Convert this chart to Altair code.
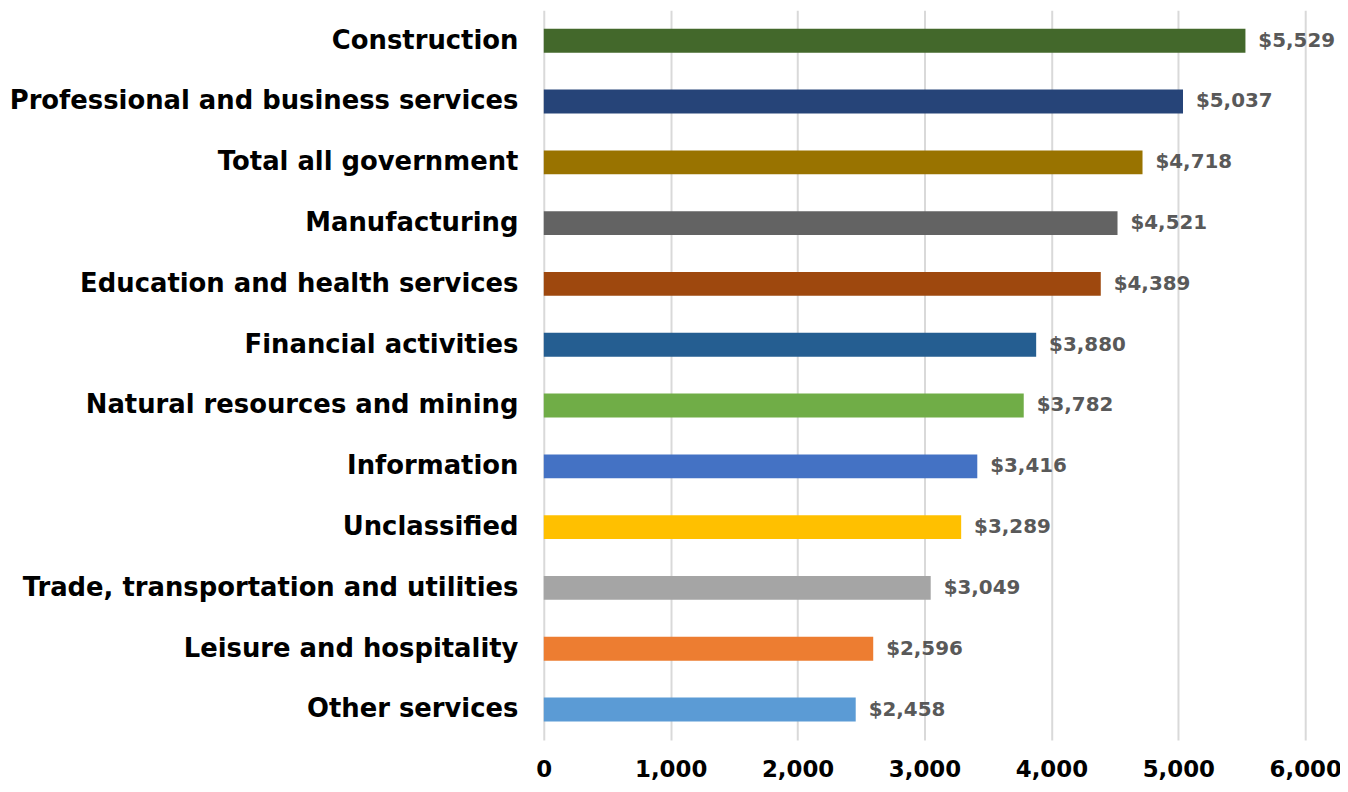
import altair as alt
import pandas as pd

categories = [
    "Construction", "Professional and business services", "Total all government",
    "Manufacturing", "Education and health services", "Financial activities",
    "Natural resources and mining", "Information", "Unclassified",
    "Trade, transportation and utilities", "Leisure and hospitality", "Other services",
]
values = [5529, 5037, 4718, 4521, 4389, 3880, 3782, 3416, 3289, 3049, 2596, 2458]
colors = ["#43682B", "#264478", "#997300", "#636363", "#9E480E", "#255E91",
          "#70AD47", "#4472C4", "#FFC000", "#A5A5A5", "#ED7D31", "#5B9BD5"]
tick_values = [0, 1000, 2000, 3000, 4000, 5000, 6000]

df = pd.DataFrame({"category": categories, "value": values, "color": colors})
df["label"] = df["value"].map(lambda v: f"${v:,}")

FONT = "DejaVu Sans"

base = alt.Chart(df).encode(
    y=alt.Y("category:N", sort=categories, title=None,
            scale=alt.Scale(paddingInner=0.6, paddingOuter=0.3),
            axis=alt.Axis(domain=False, ticks=False, labelFont=FONT, labelFontSize=26,
                          labelFontWeight="bold", labelColor="#000000", labelPadding=26,
                          labelLimit=0, grid=False)),
    x=alt.X("value:Q", title=None, scale=alt.Scale(domain=[0, 6000], nice=False),
            axis=alt.Axis(values=tick_values, format=",.0f", labelFlush=False,
                          domain=False, ticks=False, grid=True, gridColor="#D9D9D9",
                          gridWidth=2, labelFont=FONT, labelFontSize=23,
                          labelFontWeight="bold", labelColor="#000000", labelPadding=19)),
)

bars = base.mark_bar(size=24).encode(
    color=alt.Color("color:N", scale=None, legend=None),
)

text = base.mark_text(align="left", baseline="middle", dx=13, font=FONT, fontSize=20,
                      fontWeight="bold", color="#595959").encode(
    text="label:N",
)

chart = (bars + text).properties(
    width=766, height=734,
    autosize=alt.AutoSizeParams(type="none"),
    padding={"left": 539, "top": 0, "right": 35, "bottom": 45},
).configure_view(stroke=None)

chart.save("out.html", embed_options={"renderer": "svg", "actions": False})
